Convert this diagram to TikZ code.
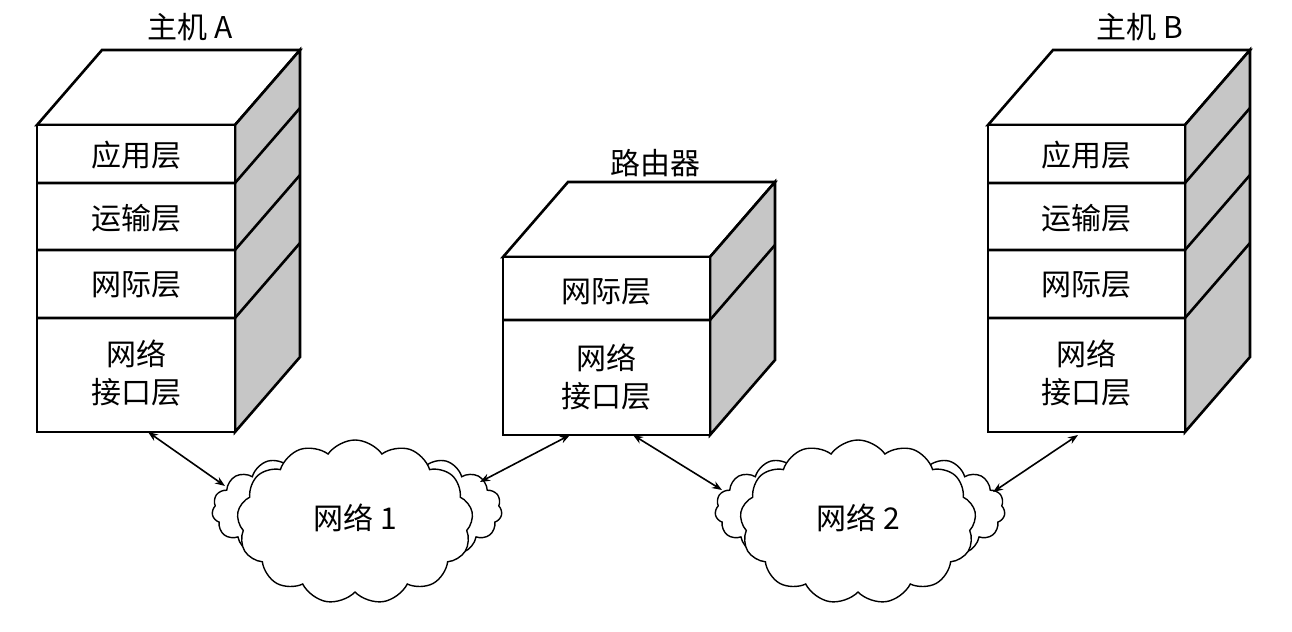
\documentclass[tikz,border=0pt]{standalone}
\usepackage{fontspec}
\setmainfont{Liberation Serif}
\newfontfamily\cjk{Noto Sans CJK SC}
\usetikzlibrary{shapes.symbols,arrows.meta}
\tikzset{
  face/.style={draw,line width=1.3pt,fill=white,line join=miter},
  side/.style={draw,line width=1.3pt,fill=gray!45,line join=miter},
  lbl/.style={font=\fontsize{15}{19}\selectfont\cjk,align=center},
  link/.style={{Stealth[length=5pt]}-{Stealth[length=5pt]},line width=0.8pt},
  cloudb/.style={cloud,draw,line width=0.7pt,fill=white,cloud puffs=19,cloud puff arc=120,aspect=2},
  cloudf/.style={cloud,draw,line width=0.7pt,fill=white,cloud puffs=13,cloud puff arc=110,aspect=1.5}
}
% stack: #1 left x, #2 right x, #3 top y, #4 bottom y
\newcommand{\mystack}[4]{%
  \draw[face] (#1,#3) -- ++(65,-75) -- (#2+65,#3-75) -- (#2,#3) -- cycle;
  \draw[side] (#2,#3) -- (#2+65,#3-75) -- (#2+65,#4-75) -- (#2,#4) -- cycle;
  \draw[face] (#1,#3) rectangle (#2,#4);
}
\newcommand{\mysep}[3]{% x1 x2 y
  \draw[line width=1.3pt] (#1,#3) -- (#2,#3) -- (#2+65,#3-75);}
\begin{document}
\begin{tikzpicture}[x=0.5pt,y=-0.5pt]
\useasboundingbox (0,0) rectangle (1292,632);
% Host A
\mystack{37}{235}{125}{432}
\mysep{37}{235}{183}\mysep{37}{235}{250}\mysep{37}{235}{318}
\node[lbl] (a1) at (136,155) {应用层};
\node[lbl] (a2) at (136,218) {运输层};
\node[lbl] (a3) at (136,285) {网际层};
\node[lbl] (a4) at (136,373) {网络\\接口层};
\node[lbl] (ta) at (190,27) {主机 A};
\coordinate (ab) at (148,432);
% Router
\mystack{503}{710}{257}{435}
\mysep{503}{710}{320}
\node[lbl] (r1) at (606,292) {网际层};
\node[lbl] (r2) at (606,377) {网络\\接口层};
\node[lbl] (tr) at (655,163) {路由器};
\coordinate (rbl) at (570,435);
\coordinate (rbr) at (633,435);
% Host B
\mystack{988}{1185}{125}{432}
\mysep{988}{1185}{183}\mysep{988}{1185}{250}\mysep{988}{1185}{318}
\node[lbl] (b1) at (1086,155) {应用层};
\node[lbl] (b2) at (1086,218) {运输层};
\node[lbl] (b3) at (1086,285) {网际层};
\node[lbl] (b4) at (1086,373) {网络\\接口层};
\node[lbl] (tb) at (1140,27) {主机 B};
\coordinate (bb) at (1078,435);
% Clouds
\node[cloudb,minimum width=145pt,minimum height=62pt] (c1b) at (357,510) {};
\node[cloudf,minimum width=118pt,minimum height=82pt] (c1) at (355,522) {};
\node[lbl] at (355,518) {网络 1};
\node[cloudb,minimum width=145pt,minimum height=62pt] (c2b) at (860,510) {};
\node[cloudf,minimum width=118pt,minimum height=82pt] (c2) at (858,522) {};
\node[lbl] at (858,518) {网络 2};
% Links
\coordinate (c1l) at (225,486);
\coordinate (c1r) at (480,482);
\coordinate (c2l) at (722,490);
\coordinate (c2r) at (993,492);
\draw[link] (ab) -- (c1l);
\draw[link] (rbl) -- (c1r);
\draw[link] (rbr) -- (c2l);
\draw[link] (bb) -- (c2r);
\end{tikzpicture}
\end{document}
